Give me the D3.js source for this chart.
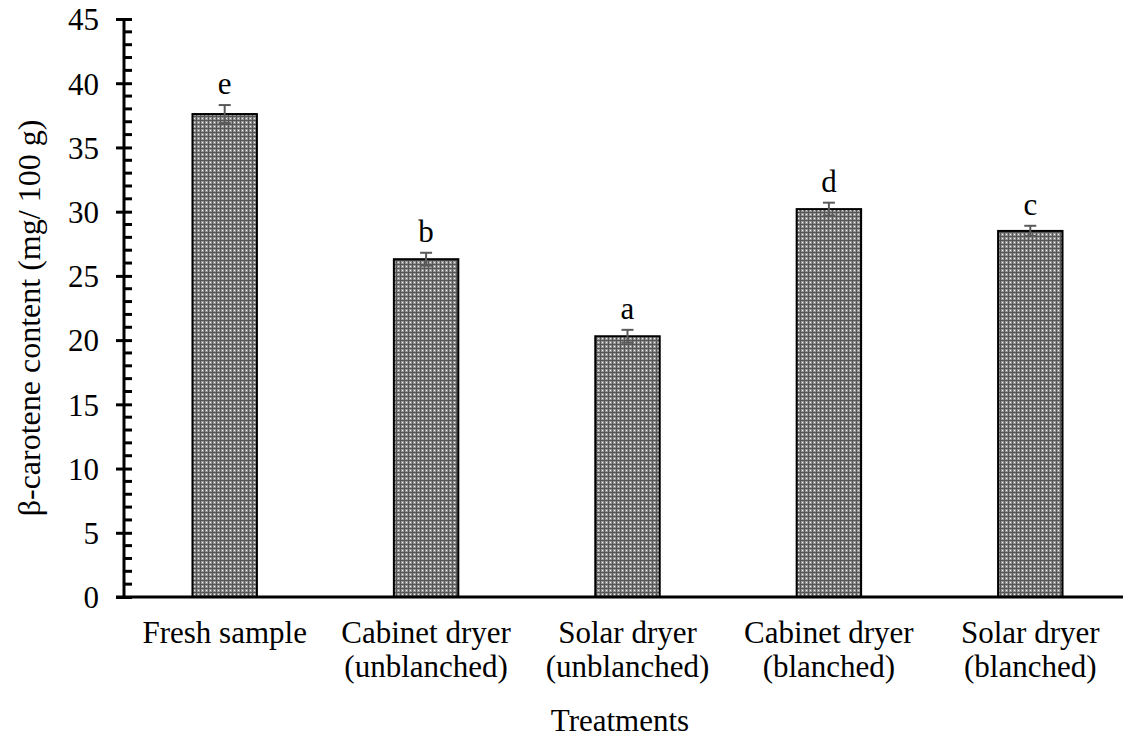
<!DOCTYPE html>
<html><head><meta charset="utf-8">
<script src="https://cdn.jsdelivr.net/npm/d3@7"></script>
<style>body{margin:0;background:#fff}svg{display:block}text{font-family:"Liberation Serif","Times New Roman",serif;fill:#000}</style>
</head><body>
<svg id="c" width="1123" height="740"></svg>
<script>
const categories = [["Fresh sample"],["Cabinet dryer","(unblanched)"],["Solar dryer","(unblanched)"],["Cabinet dryer","(blanched)"],["Solar dryer","(blanched)"]];
const values = [37.6, 26.3, 20.3, 30.2, 28.5];
const errors = [0.7, 0.5, 0.5, 0.5, 0.4];
const letters = ["e","b","a","d","c"];
const yTicks = [0,5,10,15,20,25,30,35,40,45];

(function(){
const svg = d3.select("#c");
const L = 124, R = 1131, T = 19, B = 597;
const x = d3.scaleBand().domain(d3.range(values.length)).range([L, R]).paddingInner(0.68).paddingOuter(0.34);
const y = d3.scaleLinear().domain([0,45]).range([B, T]);

const defs = svg.append("defs");
const pat = defs.append("pattern").attr("id","chk").attr("patternUnits","userSpaceOnUse").attr("width",4).attr("height",4);
pat.append("rect").attr("width",4).attr("height",4).attr("fill","#969696");
pat.append("rect").attr("x",0).attr("y",0).attr("width",1).attr("height",4).attr("fill","#555");
pat.append("rect").attr("x",0).attr("y",0).attr("width",4).attr("height",1).attr("fill","#555");
pat.append("rect").attr("x",2).attr("y",2).attr("width",1).attr("height",1).attr("fill","#eee");

svg.append("g").selectAll("rect").data(values).join("rect")
  .attr("x",(d,i)=>x(i)).attr("y",d=>y(d)).attr("width",x.bandwidth()).attr("height",d=>B-y(d))
  .attr("fill","url(#chk)").attr("stroke","#000").attr("stroke-width",2);

const eg = svg.append("g").attr("stroke","#5a5a5a").attr("stroke-width",2);
values.forEach((v,i)=>{
  const cx = x(i)+x.bandwidth()/2;
  eg.append("line").attr("x1",cx).attr("x2",cx).attr("y1",y(v+errors[i])).attr("y2",y(v-errors[i]));
  eg.append("line").attr("x1",cx-6).attr("x2",cx+6).attr("y1",y(v+errors[i])).attr("y2",y(v+errors[i]));
  eg.append("line").attr("x1",cx-6).attr("x2",cx+6).attr("y1",y(v-errors[i])).attr("y2",y(v-errors[i]));
});

svg.append("g").selectAll("text").data(letters).join("text")
  .attr("x",(d,i)=>x(i)+x.bandwidth()/2).attr("y",(d,i)=>y(values[i]+errors[i])-11)
  .attr("text-anchor","middle").attr("font-size",31).text(d=>d);

const ya = svg.append("g").attr("transform",`translate(${L},0)`)
  .call(d3.axisLeft(y).tickValues(yTicks).tickSize(8).tickPadding(17).tickFormat(d3.format("d")));
ya.select(".domain").attr("stroke","#000").attr("stroke-width",3).attr("d",`M0,${B}V${T}`);
ya.selectAll(".tick line").attr("stroke","#000").attr("stroke-width",3).attr("x2",-8).attr("x1",8);
ya.selectAll(".tick text").attr("font-size",31).attr("font-family","Liberation Serif").attr("dy","0.35em");
const minor = d3.range(0,46).filter(v=>v%5!==0);
svg.append("g").attr("transform",`translate(${L},0)`).selectAll("line").data(minor).join("line")
  .attr("x1",0).attr("x2",8).attr("y1",d=>y(d)).attr("y2",d=>y(d)).attr("stroke","#000").attr("stroke-width",3);

svg.append("line").attr("x1",L-8).attr("x2",1123).attr("y1",B).attr("y2",B).attr("stroke","#000").attr("stroke-width",3);

const cl = svg.append("g").selectAll("text").data(categories).join("text")
  .attr("x",(d,i)=>x(i)+x.bandwidth()/2).attr("y",643).attr("text-anchor","middle").attr("font-size",31);
cl.each(function(d,i){
  const t = d3.select(this);
  d.forEach((s,j)=>t.append("tspan").attr("x",x(i)+x.bandwidth()/2).attr("dy",j===0?0:34).text(s));
});

svg.append("text").attr("x",620).attr("y",731).attr("text-anchor","middle").attr("font-size",31).text("Treatments");
svg.append("text").attr("transform",`translate(40,318) rotate(-90)`).attr("text-anchor","middle").attr("font-size",32).text("β-carotene content (mg/ 100 g)");
})();
</script>
</body></html>
